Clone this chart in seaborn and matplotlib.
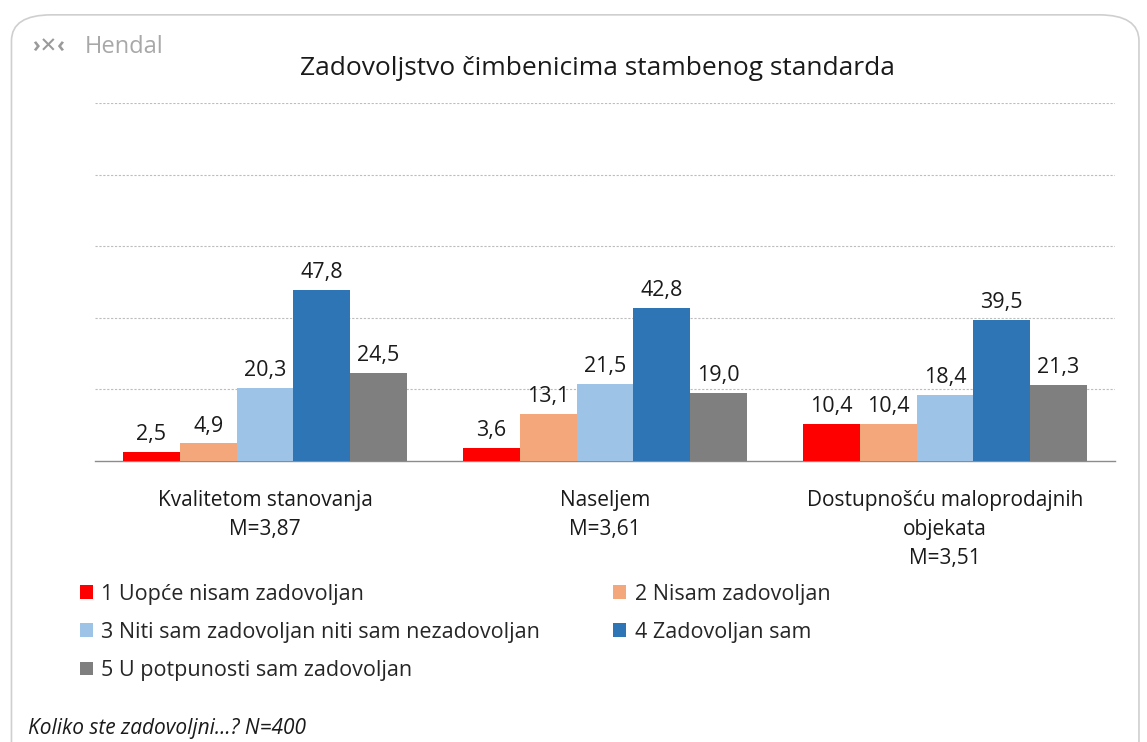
import matplotlib
matplotlib.use("Agg")
import matplotlib.pyplot as plt
import seaborn as sns
import pandas as pd
from matplotlib.patches import FancyBboxPatch

categories = ["Kvalitetom stanovanja\nM=3,87", "Naseljem\nM=3,61",
              "Dostupnošću maloprodajnih\nobjekata\nM=3,51"]
series = ["1 Uopće nisam zadovoljan", "2 Nisam zadovoljan",
          "3 Niti sam zadovoljan niti sam nezadovoljan", "4 Zadovoljan sam",
          "5 U potpunosti sam zadovoljan"]
v1 = [2.5, 3.6, 10.4]
v2 = [4.9, 13.1, 10.4]
v3 = [20.3, 21.5, 18.4]
v4 = [47.8, 42.8, 39.5]
v5 = [24.5, 19.0, 21.3]
colors = ["#FF0000", "#F4A77A", "#9DC3E6", "#2E75B6", "#7F7F7F"]

rows = []
for s, vals in zip(series, [v1, v2, v3, v4, v5]):
    for c, v in zip(categories, vals):
        rows.append({"cat": c, "series": s, "value": v})
df = pd.DataFrame(rows)

sns.set_theme(style="white")
plt.rcParams["font.family"] = ["Open Sans", "DejaVu Sans"]

fig = plt.figure(figsize=(11.47, 7.42), dpi=100)
fig.patch.set_facecolor("white")

frame = FancyBboxPatch((0.010, -0.05), 0.983, 1.03, boxstyle="round,pad=0,rounding_size=0.035",
                       transform=fig.transFigure, facecolor="none", edgecolor="#CFCFCF",
                       linewidth=1.2, zorder=-1)
fig.patches.append(frame)

ax = fig.add_axes([0.0828, 0.3787, 0.8892, 0.4825])
ax.set_facecolor("none")
sns.barplot(data=df, x="cat", y="value", hue="series", palette=colors,
            width=0.835, gap=0, saturation=1, ax=ax, legend=True, zorder=3,
            linewidth=0, edgecolor="none")

ax.set_ylim(0, 100)
ax.set_xlim(-0.5, 2.5)
ax.set_yticks([20, 40, 60, 80, 100])
ax.set_yticklabels([])
ax.tick_params(axis="y", length=0)
ax.yaxis.grid(True, linestyle=(0, (2, 1.5)), color="#BDBDBD", linewidth=0.8)
ax.set_axisbelow(True)
for sp in ["top", "right", "left"]:
    ax.spines[sp].set_visible(False)
ax.spines["bottom"].set_color("#8C8C8C")
ax.spines["bottom"].set_linewidth(1.0)
ax.set_xlabel("")
ax.set_ylabel("")
ax.set_xticks([0, 1, 2])
ax.set_xticklabels(categories, fontsize=15, color="#1A1A1A", linespacing=1.5)
ax.tick_params(axis="x", length=0, pad=21)
ax.set_xticks([-0.5, 0.5, 1.5, 2.5], minor=True)
ax.tick_params(axis="x", which="minor", length=6, color="#8C8C8C", direction="out", width=1)

for cont in ax.containers:
    labs = [f"{b.get_height():.1f}".replace(".", ",") for b in cont]
    ax.bar_label(cont, labels=labs, padding=5, fontsize=15.5, color="#1A1A1A")

handles, labels = ax.get_legend_handles_labels()
ax.get_legend().remove()
order = [0, 2, 4, 1, 3]
fig.legend([handles[i] for i in order], [labels[i] for i in order], ncol=2,
           loc="upper left", bbox_to_anchor=(0.062, 0.225), frameon=False,
           fontsize=15.5, handlelength=0.6, handleheight=0.6, handletextpad=0.4,
           columnspacing=3.4, labelspacing=0.8, borderaxespad=0)

fig.text(0.521, 0.908, "Zadovoljstvo čimbenicima stambenog standarda", ha="center",
         va="center", fontsize=19, color="#1A1A1A")
fig.text(0.028, 0.937, "›✕‹", ha="left", va="center", fontsize=15, color="#9A9A9A",
         fontweight="bold")
fig.text(0.074, 0.937, "Hendal", ha="left", va="center", fontsize=17, color="#A8A8A8")
fig.text(0.024, 0.018, "Koliko ste zadovoljni...? N=400", ha="left", va="center",
         fontsize=15, style="italic", color="#1A1A1A")

fig.savefig("out.png", dpi=100)
